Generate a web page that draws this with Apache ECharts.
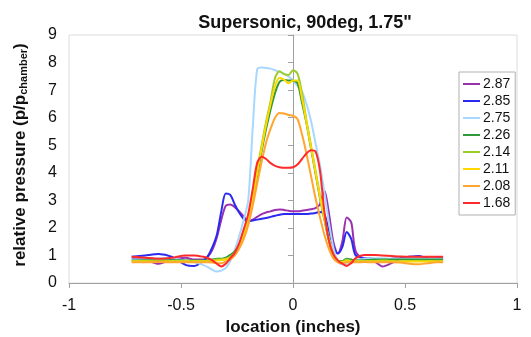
<!DOCTYPE html>
<html>
<head>
<meta charset="utf-8">
<script src="https://cdn.jsdelivr.net/npm/echarts@6/dist/echarts.min.js"></script>
<style>
  html, body { margin: 0; padding: 0; background: #fff; }
  #chart { width: 531px; height: 337px; }
</style>
</head>
<body>
<div id="chart"></div>
<script>
// Static pressure profiles across the jet, one curve per pressure ratio.
const locations = [
  -0.72, -0.66, -0.60, -0.54, -0.48, -0.44, -0.40, -0.38, -0.36, -0.34,
  -0.32, -0.30, -0.28, -0.26, -0.24, -0.22, -0.20, -0.18, -0.16, -0.14,
  -0.12, -0.10, -0.08, -0.06, -0.04, -0.02, 0.00, 0.02, 0.04, 0.06,
  0.08, 0.10, 0.12, 0.14, 0.16, 0.18, 0.20, 0.22, 0.24, 0.26,
  0.28, 0.32, 0.36, 0.40, 0.44, 0.48, 0.52, 0.56, 0.60, 0.64, 0.67
];

const seriesNames = ['2.87', '2.85', '2.75', '2.26', '2.14', '2.11', '2.08', '1.68'];

const p287 = [
  0.90, 0.85, 0.70, 0.85, 0.92, 0.85, 0.85, 0.95, 1.20, 1.65,
  2.30, 2.80, 2.85, 2.75, 2.60, 2.42, 2.25, 2.30, 2.40, 2.50,
  2.56, 2.60, 2.65, 2.67, 2.65, 2.62, 2.60, 2.60, 2.62, 2.65,
  2.68, 2.72, 2.85, 3.35, 2.55, 1.50, 1.07, 1.50, 2.38, 2.20,
  1.15, 0.85, 0.80, 0.60, 0.72, 0.88, 0.95, 0.93, 0.88, 0.90, 0.90
];
const p285 = [
  0.95, 1.00, 1.05, 0.95, 0.66, 0.62, 0.80, 0.98, 1.30, 1.75,
  2.60, 3.25, 3.20, 2.85, 2.55, 2.32, 2.24, 2.27, 2.30, 2.33,
  2.36, 2.40, 2.44, 2.48, 2.50, 2.50, 2.50, 2.50, 2.50, 2.50,
  2.52, 2.54, 2.58, 2.50, 1.90, 1.35, 1.07, 1.30, 1.85, 1.60,
  1.00, 0.90, 0.88, 0.85, 0.88, 0.90, 0.95, 0.98, 0.90, 0.88, 0.88
];
const p275 = [
  0.85, 0.85, 0.90, 0.90, 0.80, 0.75, 0.65, 0.58, 0.48, 0.42,
  0.45, 0.55, 0.80, 1.20, 1.70, 2.30, 3.00, 5.60, 7.75, 7.82,
  7.80, 7.78, 7.72, 7.66, 7.60, 7.50, 7.35, 7.15, 6.95, 6.50,
  5.90, 5.10, 4.30, 3.30, 2.20, 1.30, 0.80, 0.68, 0.68, 0.75,
  0.82, 0.88, 0.90, 0.90, 0.88, 0.88, 0.90, 0.90, 0.88, 0.88, 0.88
];
const p226 = [
  0.82, 0.83, 0.82, 0.83, 0.82, 0.82, 0.82, 0.83, 0.85, 0.88,
  0.88, 0.92, 1.02, 1.15, 1.40, 1.80, 2.40, 3.10, 3.90, 4.80,
  5.60, 6.30, 6.90, 7.30, 7.37, 7.35, 7.34, 7.25, 6.55, 5.80,
  4.90, 4.00, 3.10, 2.30, 1.55, 1.00, 0.80, 0.80, 0.88, 0.85,
  0.82, 0.83, 0.85, 0.85, 0.85, 0.85, 0.85, 0.85, 0.85, 0.85, 0.85
];
const p214 = [
  0.80, 0.80, 0.78, 0.80, 0.80, 0.80, 0.80, 0.80, 0.82, 0.85,
  0.86, 0.88, 0.95, 1.10, 1.35, 1.80, 2.40, 3.20, 4.10, 5.00,
  5.85, 6.60, 7.45, 7.68, 7.58, 7.55, 7.72, 7.60, 6.90, 5.90,
  5.00, 4.10, 3.20, 2.40, 1.60, 1.05, 0.82, 0.78, 0.85, 0.80,
  0.80, 0.80, 0.80, 0.82, 0.80, 0.78, 0.80, 0.80, 0.80, 0.80, 0.80
];
const p211 = [
  0.78, 0.78, 0.78, 0.78, 0.78, 0.78, 0.78, 0.78, 0.80, 0.82,
  0.83, 0.85, 0.92, 1.05, 1.30, 1.75, 2.35, 3.10, 4.00, 4.90,
  5.75, 6.50, 7.15, 7.45, 7.38, 7.25, 7.35, 7.35, 6.70, 5.85,
  4.95, 4.05, 3.15, 2.35, 1.60, 1.05, 0.80, 0.75, 0.80, 0.78,
  0.78, 0.78, 0.78, 0.78, 0.78, 0.78, 0.78, 0.78, 0.78, 0.78, 0.78
];
const p208 = [
  0.75, 0.75, 0.76, 0.75, 0.75, 0.75, 0.75, 0.75, 0.74, 0.72,
  0.72, 0.78, 0.85, 1.00, 1.25, 1.60, 2.10, 2.80, 3.60, 4.40,
  5.10, 5.60, 6.00, 6.17, 6.15, 6.10, 6.07, 5.95, 5.40, 4.70,
  3.90, 3.10, 2.40, 1.75, 1.25, 0.90, 0.75, 0.72, 0.75, 0.75,
  0.75, 0.76, 0.75, 0.75, 0.75, 0.74, 0.70, 0.68, 0.72, 0.75, 0.75
];
const p168 = [
  0.95, 0.92, 0.88, 0.92, 1.00, 1.00, 0.95, 0.90, 0.82, 0.70,
  0.60, 0.70, 0.90, 1.10, 1.45, 1.95, 2.50, 3.40, 4.35, 4.58,
  4.50, 4.35, 4.25, 4.20, 4.18, 4.18, 4.20, 4.30, 4.50, 4.70,
  4.82, 4.78, 4.10, 2.60, 1.55, 1.05, 0.82, 0.70, 0.62, 0.72,
  0.90, 1.02, 1.02, 1.00, 0.98, 0.96, 0.95, 0.95, 0.95, 0.95, 0.95
];

const seriesValues = [p287, p285, p275, p226, p214, p211, p208, p168];
const seriesColors = ['#9b30b0', '#2a2af0', '#a8d8ff', '#2e9a3a', '#9ccc2a', '#ffd800', '#ffa530', '#ff2a2a'];

const xRange = { min: -1, max: 1, step: 0.5 };
const yRange = { min: 0, max: 9, step: 1 };

const FONT = '"Liberation Sans", Arial, sans-serif';

const chart = echarts.init(document.getElementById('chart'), null, { renderer: 'canvas' });

const series = seriesNames.map((name, i) => ({
  name: name,
  type: 'line',
  smooth: 0.3,
  showSymbol: false,
  symbol: 'none',
  data: locations.map((x, k) => [x, seriesValues[i][k]]),
  lineStyle: { color: seriesColors[i], width: 2 },
  itemStyle: { color: seriesColors[i] },
  animation: false
}));

const axisGrey = '#a0a0a0';

chart.setOption({
  backgroundColor: '#fff',
  animation: false,
  title: {
    text: 'Supersonic, 90deg, 1.75"',
    left: 300,
    top: 9,
    textAlign: 'center',
    textStyle: { fontFamily: FONT, fontSize: 18, fontWeight: 'bold', color: '#111' }
  },
  grid: {
    left: 69, right: 14, top: 35, bottom: 54,
    containLabel: false,
    outerBoundsMode: 'none',
    show: true, borderColor: '#dcdcdc', borderWidth: 1, backgroundColor: '#fff'
  },
  legend: {
    orient: 'vertical',
    left: 459,
    top: 72,
    width: 54,
    padding: [5, 5, 5, 4],
    itemGap: 3,
    itemWidth: 17,
    itemHeight: 2,
    icon: 'rect',
    borderColor: '#b0b0b0',
    borderWidth: 1,
    backgroundColor: '#fff',
    textStyle: { fontFamily: FONT, fontSize: 14, color: '#111', padding: [0, 0, 0, -2] },
    data: seriesNames
  },
  xAxis: {
    type: 'value',
    min: xRange.min, max: xRange.max, interval: xRange.step,
    name: 'location (inches)',
    nameLocation: 'middle',
    nameGap: 36,
    nameTextStyle: { fontFamily: FONT, fontSize: 17, fontWeight: 'bold', color: '#111' },
    axisLine: { onZero: false, lineStyle: { color: axisGrey } },
    axisTick: { show: true, inside: false, length: 5, lineStyle: { color: axisGrey } },
    axisLabel: { fontFamily: FONT, fontSize: 16, color: '#111', margin: 15 },
    splitLine: { show: false }
  },
  yAxis: {
    type: 'value',
    min: yRange.min, max: yRange.max, interval: yRange.step,
    name: '{a|relative pressure (p/p}{b|chamber}{a|)}',
    nameLocation: 'middle',
    nameRotate: 90,
    nameGap: 40,
    nameTextStyle: {
      fontFamily: FONT, fontSize: 17, fontWeight: 'bold', color: '#111',
      padding: [0, 0, 0, 8],
      rich: {
        a: { fontFamily: FONT, fontSize: 17, fontWeight: 'bold', color: '#111', lineHeight: 20, verticalAlign: 'bottom' },
        b: { fontFamily: FONT, fontSize: 11, fontWeight: 'bold', color: '#111', lineHeight: 20, verticalAlign: 'bottom', padding: [7, 0, 0, 0] }
      }
    },
    axisLine: { show: true, lineStyle: { color: axisGrey } },
    axisTick: { show: true, inside: false, length: 5, lineStyle: { color: axisGrey } },
    axisLabel: { fontFamily: FONT, fontSize: 16, color: '#111', margin: 12 },
    splitLine: { show: false }
  },
  series: series
});
</script>
</body>
</html>
